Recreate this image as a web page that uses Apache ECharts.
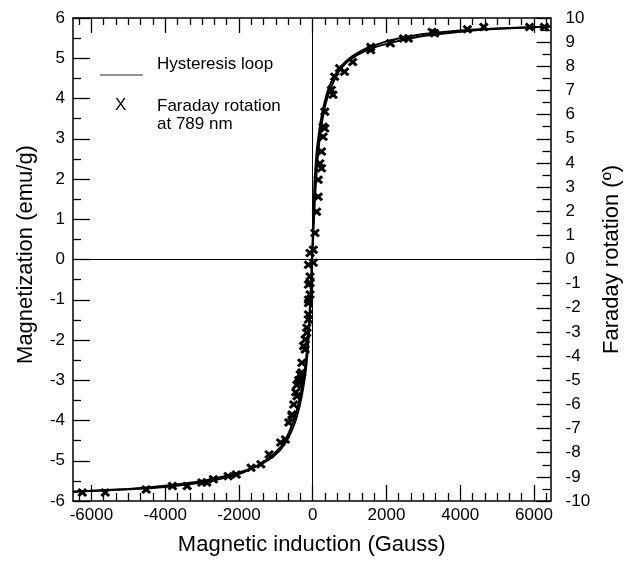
<!DOCTYPE html>
<html>
<head>
<meta charset="utf-8">
<script src="https://cdn.jsdelivr.net/npm/echarts@6/dist/echarts.min.js"></script>
<style>html,body{margin:0;padding:0;background:#fff;}#c{width:631px;height:561px;}</style>
</head>
<body>
<div id="c"></div>
<script>
// Hysteresis loop, descending branch (field from + to -), emu/g
const H_desc = [6450,5000,4000,3000,2500,2000,1500,1200,1000,800,600,450,320,220,150,100,50,15,-10,-35,-60,-90,-130,-180,-250,-350,-500,-700,-900,-1200,-1600,-2200,-3000,-4000,-5000,-6500];
const M_desc = [5.79,5.74,5.69,5.60,5.52,5.42,5.26,5.12,5.00,4.83,4.58,4.30,3.90,3.45,3.00,2.60,1.90,1.00,0.20,-0.50,-1.10,-1.65,-2.20,-2.70,-3.15,-3.62,-4.10,-4.50,-4.75,-4.98,-5.17,-5.34,-5.50,-5.62,-5.70,-5.77];
// Hysteresis loop, ascending branch (field from - to +), emu/g
const H_asc = [-6500,-5000,-4000,-3000,-2500,-2000,-1500,-1200,-1000,-800,-600,-450,-330,-240,-170,-120,-80,-45,-15,15,45,80,130,190,260,360,500,700,900,1200,1600,2200,3000,4000,5000,6450];
const M_asc = [-5.77,-5.71,-5.65,-5.54,-5.45,-5.33,-5.12,-4.94,-4.78,-4.57,-4.20,-3.80,-3.35,-2.90,-2.38,-1.88,-1.25,-0.60,0.00,0.60,1.20,1.80,2.45,3.00,3.45,3.90,4.28,4.65,4.88,5.08,5.25,5.40,5.55,5.66,5.73,5.79];
// Faraday rotation at 789 nm (degrees)
const H_far = [6283,5883,4640,4195,3307,3240,2595,2462,2107,1573,1573,1085,862,729,595,551,507,329,329,284,284,240,196,240,151,151,107,62,18,18,
  -72,-115,-72,-115,-72,-115,-115,-160,-205,-205,-293,-339,-381,-427,-560,-430,-460,-380,
  -6248,-5627,-4515,-3804,-3404,-3004,-2871,-2693,-2293,-2071,-1671,-1404,-1182,-871,-738,-649,-560,-515,-338,-293,-249,-160,-115,-115,-71];
const R_far = [9.63,9.63,9.63,9.53,9.37,9.42,9.15,9.15,8.95,8.67,8.80,8.18,7.77,7.92,7.57,6.82,7.02,6.12,5.43,5.50,5.08,4.47,3.98,3.78,3.30,2.60,1.98,1.10,0.40,-0.13,
  0.27,-0.22,-0.70,-1.04,-1.45,-1.80,-2.28,-2.83,-3.31,-3.73,-4.28,-4.76,-5.10,-5.66,-6.42,-5.20,-5.50,-5.00,
  -9.65,-9.65,-9.52,-9.38,-9.38,-9.23,-9.23,-9.10,-8.97,-8.90,-8.62,-8.48,-8.07,-7.58,-7.45,-6.75,-6.48,-6.00,-4.97,-4.68,-3.58,-3.03,-2.48,-1.67,-0.97];
// Tick labels
const X_MAJOR = [-6000,-4000,-2000,0,2000,4000,6000];
const X_MINOR = [];
for (let k = -19; k <= 19; k++) { if (k % 6 !== 0) X_MINOR.push(k * 1000 / 3); }

const FONT = "'Liberation Sans', Arial, Helvetica, sans-serif";
const zip = (a, b) => a.map((v, i) => [v, b[i]]);
const axLine = {show: true, onZero: false, lineStyle: {color: '#000', width: 1.5}};
const noLine = {show: false, onZero: false};
const tickStyle = {color: '#000', width: 1.3};
const X_MARK = 'path://M0,2.2L2.2,0L5,2.8L7.8,0L10,2.2L7.2,5L10,7.8L7.8,10L5,7.2L2.2,10L0,7.8L2.8,5Z';

const chart = echarts.init(document.getElementById('c'), null, {renderer: 'canvas'});
const xBase = {type: 'value', min: -6500, max: 6450, splitLine: {show: false}};
chart.setOption({
  animation: false,
  backgroundColor: '#fff',
  grid: {left: 73, right: 74, top: 18, bottom: 59, containLabel: false},
  xAxis: [
    Object.assign({}, xBase, {
      position: 'bottom', axisLine: axLine,
      axisTick: {inside: true, length: 16, customValues: X_MAJOR, lineStyle: tickStyle},
      axisLabel: {customValues: X_MAJOR, formatter: v => String(v), color: '#000', fontSize: 17, fontFamily: FONT, margin: 6},
      name: 'Magnetic induction (Gauss)', nameLocation: 'middle', nameGap: 33,
      nameTextStyle: {color: '#000', fontSize: 22, fontFamily: FONT}
    }),
    Object.assign({}, xBase, {
      position: 'top', axisLine: axLine,
      axisTick: {inside: true, length: 15, customValues: X_MAJOR, lineStyle: tickStyle},
      axisLabel: {show: false}
    }),
    Object.assign({}, xBase, {
      position: 'bottom', axisLine: noLine,
      axisTick: {inside: true, length: 8, customValues: X_MINOR, lineStyle: tickStyle},
      axisLabel: {show: false}
    }),
    Object.assign({}, xBase, {
      position: 'top', axisLine: noLine,
      axisTick: {inside: true, length: 7, customValues: X_MINOR, lineStyle: tickStyle},
      axisLabel: {show: false}
    })
  ],
  yAxis: [
    {
      type: 'value', min: -6, max: 6, interval: 1, position: 'left', axisLine: axLine,
      axisTick: {inside: true, length: 17, lineStyle: tickStyle},
      minorTick: {show: true, splitNumber: 2, length: 8, lineStyle: tickStyle},
      splitLine: {show: false},
      axisLabel: {color: '#000', fontSize: 17, fontFamily: FONT, margin: 8},
      name: 'Magnetization (emu/g)', nameLocation: 'middle', nameGap: 36, nameRotate: 90,
      nameTextStyle: {color: '#000', fontSize: 22, fontFamily: FONT, padding: [0, 0, 0, 10]}
    },
    {
      type: 'value', min: -10, max: 10, interval: 1, position: 'right', axisLine: axLine,
      axisTick: {inside: true, length: 14, lineStyle: tickStyle},
      minorTick: {show: true, splitNumber: 2, length: 8, lineStyle: tickStyle},
      splitLine: {show: false},
      axisLabel: {color: '#000', fontSize: 17, fontFamily: FONT, margin: 15},
      name: 'Faraday rotation (º)', nameLocation: 'middle', nameGap: 43, nameRotate: 90,
      nameTextStyle: {color: '#000', fontSize: 22, fontFamily: FONT}
    }
  ],
  series: [
    {
      name: 'Hysteresis loop', type: 'line', xAxisIndex: 0, yAxisIndex: 0,
      data: zip(H_desc, M_desc), smooth: 0.2, showSymbol: false,
      lineStyle: {color: '#000', width: 2},
      markLine: {
        silent: true, symbol: 'none', label: {show: false},
        lineStyle: {color: '#000', width: 1, type: 'solid'},
        data: [{xAxis: 0}, {yAxis: 0}]
      }
    },
    {
      name: 'Hysteresis loop', type: 'line', xAxisIndex: 0, yAxisIndex: 0,
      data: zip(H_asc, M_asc), smooth: 0.2, showSymbol: false,
      lineStyle: {color: '#000', width: 2}
    },
    {
      name: 'Faraday rotation at 789 nm', type: 'scatter', xAxisIndex: 0, yAxisIndex: 1,
      data: zip(H_far, R_far), symbol: X_MARK, symbolSize: [10, 9],
      itemStyle: {color: '#000', opacity: 1}
    }
  ],
  graphic: [
    {type: 'line', shape: {x1: 100, y1: 75, x2: 143, y2: 75}, style: {stroke: '#222', lineWidth: 1}},
    {type: 'text', left: 157, top: 56, style: {text: 'Hysteresis loop', fill: '#000', font: '17px ' + FONT}},
    {type: 'text', left: 115, top: 97, style: {text: 'X', fill: '#000', font: '17px ' + FONT}},
    {type: 'text', left: 157, top: 97, style: {text: 'Faraday rotation\nat 789 nm', fill: '#000', font: '17px ' + FONT, lineHeight: 18}}
  ]
});
</script>
</body>
</html>
